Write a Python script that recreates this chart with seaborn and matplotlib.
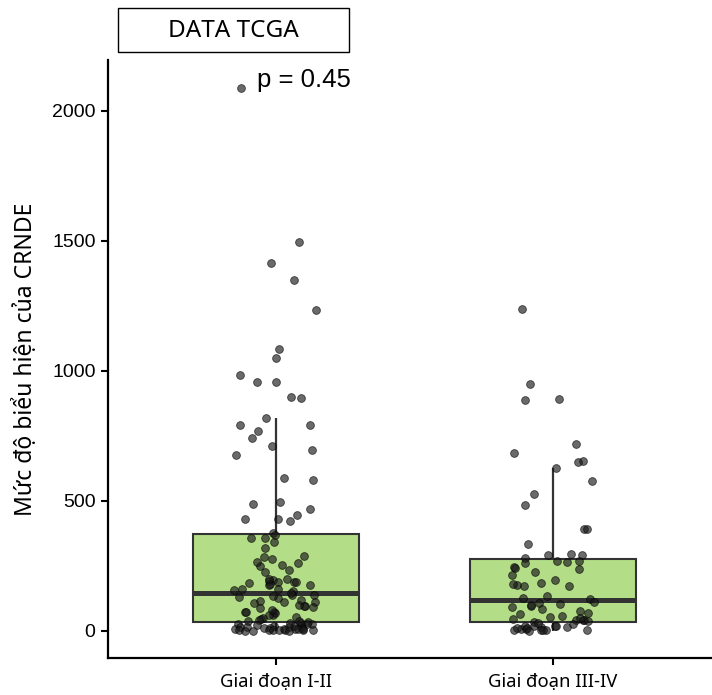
import numpy as np
import pandas as pd
import matplotlib
matplotlib.use("Agg")
import matplotlib.pyplot as plt
from matplotlib.patches import Rectangle
import seaborn as sns

categories = ["Giai đoạn I-II", "Giai đoạn III-IV"]

stage_early = [
    2090, 1496, 1415, 1350, 1235, 1085, 1050, 985, 958, 958, 900, 895, 819,
    792, 769, 792, 742, 712, 696, 677, 588, 581, 488, 496, 469, 431, 431, 446,
    423, 377, 358, 369, 358,
    342, 319, 288, 262, 250, 254, 265, 277, 285, 235, 227, 196, 188, 192, 177,
    185, 188, 177, 181, 200, 188, 200, 158, 162, 154, 162, 138, 138, 146, 131,
    115, 112, 108, 112, 92, 96, 73, 96, 73, 88, 62, 54, 69, 73, 50, 46, 42,
    40, 60, 80, 100, 120, 125, 135,
    38, 35, 32, 30, 28, 26, 25, 22, 20, 20, 18, 16, 15, 14, 12, 12, 10, 9, 8,
    8, 7, 6, 5, 5, 4, 3, 3, 2, 2, 1, 1, 0,
]

stage_late = [
    1238, 950, 892, 888, 719, 654, 685, 627, 650, 577, 527, 485, 392, 392, 335,
    292, 296, 292, 281,
    265, 269, 269, 262, 246, 227, 238, 242, 215, 185, 177, 173, 181, 196, 173,
    135, 127, 108, 104, 123, 112, 96, 92, 77, 69, 54, 42, 42, 58, 42, 46, 35,
    19, 8, 4, 4, 15, 12, 15, 4, 8, 19, 19,
    30, 25, 20, 10, 5, 2, 1, 40, 50, 65, 85, 100,
]

y_ticks = [0, 500, 1000, 1500, 2000]
p_label = "p = 0.45"
title_label = "DATA TCGA"
y_label = "Mức độ biểu hiện của CRNDE"

df = pd.DataFrame({
    "group": [categories[0]] * len(stage_early) + [categories[1]] * len(stage_late),
    "value": stage_early + stage_late,
})

sns.set_theme(style="ticks")
plt.rcParams["font.family"] = ["Liberation Sans", "DejaVu Sans"]
plt.rcParams["text.color"] = "black"

fig = plt.figure(figsize=(7.12, 6.95), dpi=100)
ax = fig.add_axes([108 / 712, 37 / 695, 1 - 108 / 712, (658 - 60) / 695])

sns.boxplot(
    data=df, x="group", y="value", order=categories, ax=ax,
    width=0.6, color="#B3DE87", saturation=1, linecolor="#333333",
    linewidth=1.5, showfliers=False, showcaps=False,
    medianprops=dict(linewidth=3.6, color="#333333"),
    whiskerprops=dict(linewidth=1.6, color="#333333"),
)

np.random.seed(7)
sns.stripplot(
    data=df, x="group", y="value", order=categories, ax=ax,
    jitter=0.15, size=5.6, color="#1a1a1a", alpha=0.65,
    edgecolor="black", linewidth=0.6,
)

ax.set_xlim(-0.606, 1.574)
ax.set_ylim(-104, 2196)
ax.set_yticks(y_ticks)
ax.set_yticklabels([str(t) for t in y_ticks], fontsize=14, color="black")
ax.set_xticks([0, 1])
ax.set_xticklabels(categories, fontsize=13.3, color="black",
                   fontfamily=["Noto Sans", "DejaVu Sans"])
ax.set_xlabel("")
ax.set_ylabel(y_label, fontsize=16.5, color="black",
              fontfamily=["Noto Sans", "DejaVu Sans"], labelpad=10)
ax.tick_params(axis="both", length=5, width=1.5, color="black", pad=4)
ax.tick_params(axis="x", pad=6)
for side in ["top", "right"]:
    ax.spines[side].set_visible(False)
for side in ["left", "bottom"]:
    ax.spines[side].set_linewidth(1.6)
    ax.spines[side].set_color("black")

ax.text(-0.07, 2120, p_label, fontsize=18.5, ha="left", va="center",
        color="black")

fig.patches.append(Rectangle((118 / 712, (695 - 52) / 695), 231 / 712, 44 / 695,
                             transform=fig.transFigure, fill=False,
                             edgecolor="black", linewidth=1.0))
fig.text((118 + 231 / 2) / 712, (695 - 31) / 695, title_label, fontsize=17.5,
         ha="center", va="center", color="black",
         fontfamily=["Noto Sans", "DejaVu Sans"])

fig.savefig("out.png", dpi=100)
